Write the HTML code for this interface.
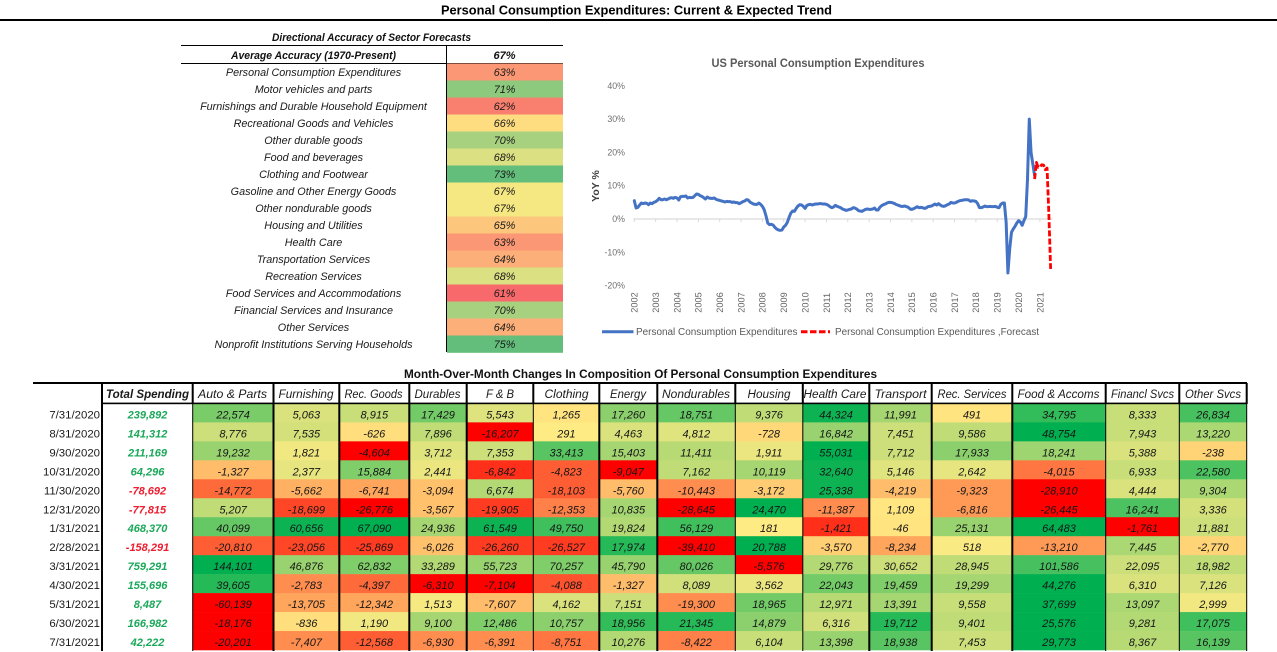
<!DOCTYPE html>
<html lang="en">
<head>
<meta charset="utf-8">
<title>Personal Consumption Expenditures: Current &amp; Expected Trend</title>
<style>
html,body{margin:0;padding:0;background:#fff;}
body{width:1277px;height:652px;overflow:hidden;}
svg{display:block;font-family:"Liberation Sans",sans-serif;}
.hdr{font-size:11.5px;font-style:italic;fill:#1a1a1a;text-anchor:middle;}
.legend{font-size:10px;fill:#595959;}
</style>
</head>
<body>
<svg id="page" xmlns="http://www.w3.org/2000/svg" width="1277" height="652" viewBox="0 0 1277 652">
  <text x="636.5" y="14.5" text-anchor="middle" font-size="13" font-weight="bold" fill="#000" textLength="391" lengthAdjust="spacingAndGlyphs">Personal Consumption Expenditures: Current &amp; Expected Trend</text>
  <rect x="0" y="19" width="1277" height="2" fill="#000"/>

  <g id="accuracy-table">
    <text x="371.5" y="41" text-anchor="middle" font-size="11" font-weight="bold" font-style="italic" fill="#111" textLength="199" lengthAdjust="spacingAndGlyphs">Directional Accuracy of Sector Forecasts</text>
    <rect x="181" y="45" width="382" height="1" fill="#000"/>
    <text x="313.5" y="59" text-anchor="middle" font-size="11" font-weight="bold" font-style="italic" fill="#111" textLength="165" lengthAdjust="spacingAndGlyphs">Average Accuracy (1970-Present)</text>
    <text x="504.5" y="59" text-anchor="middle" font-size="11" font-weight="bold" font-style="italic" fill="#111">67%</text>
    <rect x="181" y="63" width="382" height="1" fill="#000"/>
  </g>

  <g id="line-chart">
    <text x="818" y="67" text-anchor="middle" font-size="11.5" font-weight="bold" fill="#595959" textLength="213" lengthAdjust="spacingAndGlyphs">US Personal Consumption Expenditures</text>
    <text transform="translate(599,186) rotate(-90)" text-anchor="middle" font-size="10.5" font-weight="bold" fill="#404040">YoY %</text>
    <g>
      <line x1="602" y1="331.7" x2="633.5" y2="331.7" stroke="#4472C4" stroke-width="3"/>
      <text class="legend" x="636" y="335.2" textLength="161.5" lengthAdjust="spacingAndGlyphs">Personal Consumption Expenditures</text>
      <line x1="801" y1="331.7" x2="830" y2="331.7" stroke="#FF0000" stroke-width="3" stroke-dasharray="6.5,2.5"/>
      <text class="legend" x="835" y="335.2" textLength="204" lengthAdjust="spacingAndGlyphs">Personal Consumption Expenditures ,Forecast</text>
    </g>
  </g>

  <g id="heat-table">
    <text x="640.5" y="378" text-anchor="middle" font-size="11.5" font-weight="bold" fill="#111" textLength="473" lengthAdjust="spacingAndGlyphs">Month-Over-Month Changes In Composition Of Personal Consumption Expenditures</text>
    <g id="heat-body"></g>
    <g>
      <text class="hdr" x="147.5" y="398" font-weight="bold" textLength="83" lengthAdjust="spacingAndGlyphs">Total Spending</text>
      <text class="hdr" x="232.5" y="398" textLength="69" lengthAdjust="spacingAndGlyphs">Auto &amp; Parts</text>
      <text class="hdr" x="306" y="398" textLength="55" lengthAdjust="spacingAndGlyphs">Furnishing</text>
      <text class="hdr" x="373.5" y="398" textLength="58" lengthAdjust="spacingAndGlyphs">Rec. Goods</text>
      <text class="hdr" x="437.5" y="398" textLength="46" lengthAdjust="spacingAndGlyphs">Durables</text>
      <text class="hdr" x="500" y="398" textLength="28" lengthAdjust="spacingAndGlyphs">F &amp; B</text>
      <text class="hdr" x="566.5" y="398" textLength="44" lengthAdjust="spacingAndGlyphs">Clothing</text>
      <text class="hdr" x="628" y="398" textLength="36" lengthAdjust="spacingAndGlyphs">Energy</text>
      <text class="hdr" x="696" y="398" textLength="68" lengthAdjust="spacingAndGlyphs">Nondurables</text>
      <text class="hdr" x="769" y="398" textLength="43" lengthAdjust="spacingAndGlyphs">Housing</text>
      <text class="hdr" x="835" y="398" textLength="63" lengthAdjust="spacingAndGlyphs">Health Care</text>
      <text class="hdr" x="900.5" y="398" textLength="52" lengthAdjust="spacingAndGlyphs">Transport</text>
      <text class="hdr" x="972" y="398" textLength="69" lengthAdjust="spacingAndGlyphs">Rec. Services</text>
      <text class="hdr" x="1058.5" y="398" textLength="82" lengthAdjust="spacingAndGlyphs">Food &amp; Accoms</text>
      <text class="hdr" x="1142.5" y="398" textLength="63" lengthAdjust="spacingAndGlyphs">Financl Svcs</text>
      <text class="hdr" x="1213" y="398" textLength="56" lengthAdjust="spacingAndGlyphs">Other Svcs</text>
    </g>
  </g>
</svg>

<script>
/* ---------- accuracy table data ---------- */
const sectorNames = ["Personal Consumption Expenditures","Motor vehicles and parts","Furnishings and Durable Household Equipment","Recreational Goods and Vehicles","Other durable goods","Food and beverages","Clothing and Footwear","Gasoline and Other Energy Goods","Other nondurable goods","Housing and Utilities","Health Care","Transportation Services","Recreation Services","Food Services and Accommodations","Financial Services and Insurance","Other Services","Nonprofit Institutions Serving Households"];
const sectorAccuracy = [63,71,62,66,70,68,73,67,67,65,63,64,68,61,70,64,75];

/* ---------- line chart data ---------- */
const yearLabels = ["2002","2003","2004","2005","2006","2007","2008","2009","2010","2011","2012","2013","2014","2015","2016","2017","2018","2019","2020","2021"];
const yTickValues = [40,30,20,10,0,-10,-20];
const pceYoY = [
5.5,3.3,3.5,4.2,4.8,4.6,4.8,4.7,4.3,4.8,4.6,5.0,
5.2,5.6,6.2,5.8,5.8,6.0,5.8,6.0,6.3,6.4,6.2,6.5,
6.3,5.7,6.7,6.8,6.8,6.9,6.3,6.5,6.4,6.5,7.0,7.5,
7.4,7.0,6.8,6.4,6.0,6.6,6.3,6.2,6.2,6.3,5.9,5.7,
5.6,5.4,5.3,5.1,5.3,5.2,5.2,5.0,5.1,4.9,4.9,4.6,
4.9,5.2,5.4,5.8,5.7,5.1,4.8,4.5,4.4,4.4,4.8,4.4,
3.8,2.8,1.0,-1.2,-1.7,-1.6,-1.8,-2.5,-3.0,-3.3,-3.4,-3.3,
-2.4,-1.9,-1.0,0.5,1.8,2.4,2.3,3.2,3.9,4.3,4.2,3.8,
3.2,4.1,4.3,4.4,4.2,4.4,4.5,4.5,4.6,4.6,4.5,4.5,
4.4,4.1,3.7,3.4,3.6,4.1,3.8,3.6,3.4,3.0,2.8,2.6,
2.7,2.9,3.0,3.4,3.3,3.0,2.5,2.4,2.3,2.6,2.9,3.0,
2.9,2.9,3.0,3.3,2.7,2.7,3.5,4.0,4.3,4.5,4.8,5.0,
5.0,4.9,4.7,4.4,4.2,4.0,3.8,3.8,3.9,3.7,3.5,3.0,
2.9,3.1,3.4,3.7,3.4,3.5,3.4,3.2,3.3,3.7,3.8,3.9,
4.2,4.5,4.2,4.6,4.2,3.9,3.8,4.0,4.3,4.5,5.0,4.8,
4.8,5.0,5.3,5.5,5.6,5.7,5.8,5.8,5.7,5.3,5.5,5.4,
5.3,4.6,3.4,3.4,3.6,3.9,3.7,3.7,3.8,3.7,3.7,3.8,
3.5,3.4,4.4,4.8,4.8,-1.0,-16.2,-9.0,-4.0,-3.0,-2.2,-1.2,
-0.5,-0.9,-1.9,-0.5,0.7,12.0,30.0,20.0,16.5,13.0];
const pceForecast = [12.0,17.0,15.5,15.6,16.3,16.2,14.8,15.3,1.5,-15.0];

/* ---------- heatmap data: printed values and colour score (-1 red .. 0 yellow .. 1 green) ---------- */
const rowDates = ["7/31/2020","8/31/2020","9/30/2020","10/31/2020","11/30/2020","12/31/2020","1/31/2021","2/28/2021","3/31/2021","4/30/2021","5/31/2021","6/30/2021","7/31/2021"];
const totalSpending = [239892,141312,211169,64296,-78692,-77815,468370,-158291,759291,155696,8487,166982,42222];

const autoParts = [22574,8776,19232,-1327,-14772,5207,40099,-20810,144101,39605,-60139,-18176,-20201];
const furnishing = [5063,7535,1821,2377,-5662,-18699,60656,-23056,46876,-2783,-13705,-836,-7407];
const recGoods = [8915,-626,-4604,15884,-6741,-26776,67090,-25869,62832,-4397,-12342,1190,-12568];
const durables = [17429,7896,3712,2441,-3094,-3567,24936,-6026,33289,-6310,1513,9100,-6930];
const foodBev = [5543,-16207,7353,-6842,6674,-19905,61549,-26260,55723,-7104,-7607,12486,-6391];
const clothing = [1265,291,33413,-4823,-18103,-12353,49750,-26527,70257,-4088,4162,10757,-8751];
const energy = [17260,4463,15403,-9047,-5760,10835,19824,17974,45790,-1327,7151,18956,10276];
const nondurables = [18751,4812,11411,7162,-10443,-28645,56129,-39410,80026,8089,-19300,21345,-8422];
const housing = [9376,-728,1911,10119,-3172,24470,181,20788,-5576,3562,18965,14879,6104];
const healthCare = [44324,16842,55031,32640,25338,-11387,-1421,-3570,29776,22043,12971,6316,13398];
const transport = [11991,7451,7712,5146,-4219,1109,-46,-8234,30652,19459,13391,19712,18938];
const recServices = [491,9586,17933,2642,-9323,-6816,25131,518,28945,19299,9558,9401,7453];
const foodAccoms = [34795,48754,18241,-4015,-28910,-26445,64483,-13210,101586,44276,37699,25576,29773];
const financial = [8333,7943,5388,6933,4444,16241,-1761,7445,22095,6310,13097,9281,8367];
const otherSvcs = [26834,13220,-238,22580,9304,3336,11881,-2770,18982,7126,2999,17075,16139];

const autoPartsHeat = [.52,.2,.4,-.2,-.55,.25,.6,-.6,1,.85,-1,-1,-1];
const furnishingHeat = [.15,.17,.05,.1,-.25,-.7,.95,-.7,.4,-.4,-.3,-.05,-.4];
const recGoodsHeat = [.22,-.05,-1,.5,-.3,-1,1,-.75,.5,-.55,-.3,.05,-.6];
const durablesHeat = [.55,.25,.12,.08,-.18,-.18,.35,-.18,.3,-1,.03,.35,-.4];
const foodBevHeat = [.13,-1,.2,-.8,.3,-.75,.95,-.75,.4,-1,-.2,.5,-.4];
const clothingHeat = [-.03,0,.65,-.6,-.6,-.45,.75,-.75,.5,-.65,.15,.45,-.5];
const energyHeat = [.45,.15,.35,-1,-.2,.35,.3,.85,.4,-.2,.2,.8,.3];
const nondurablesHeat = [.6,.12,.28,.25,-.4,-1,.75,-1,.6,.18,-.4,.85,-.45];
const housingHeat = [.25,-.08,.08,.35,-.13,1,0,1,-1,.08,.55,.45,.22];
const healthCareHeat = [.95,.4,1,.95,.95,-.4,-.8,-.12,.3,.55,.28,.18,.4];
const transportHeat = [.35,.2,.2,.12,-.2,-.02,-.03,-.3,.2,.5,.35,.85,.65];
const recServicesHeat = [-.03,.25,.45,.1,-.35,-.35,.4,.02,.25,.35,.22,.25,.2];
const foodAccomsHeat = [.8,1,.38,-.5,-1,-1,1,-.35,.72,1,1,1,1];
const financialHeat = [.22,.22,.15,.22,.15,.7,-1,.33,.2,.15,.33,.3,.28];
const otherSvcsHeat = [.72,.33,-.1,.7,.33,.17,.2,-.1,.25,.15,.05,.75,.65];

const sectorColumns = [autoParts,furnishing,recGoods,durables,foodBev,clothing,energy,nondurables,housing,healthCare,transport,recServices,foodAccoms,financial,otherSvcs];
const heatColumns = [autoPartsHeat,furnishingHeat,recGoodsHeat,durablesHeat,foodBevHeat,clothingHeat,energyHeat,nondurablesHeat,housingHeat,healthCareHeat,transportHeat,recServicesHeat,foodAccomsHeat,financialHeat,otherSvcsHeat];
</script>
<script>
const NS = "http://www.w3.org/2000/svg";
function make(parent, tag, attrs, txt) {
  const n = document.createElementNS(NS, tag);
  for (const k in attrs) n.setAttribute(k, attrs[k]);
  if (txt !== undefined) n.textContent = txt;
  parent.appendChild(n);
  return n;
}
function mix(a, b, t) {
  return "rgb(" + a.map((v, i) => Math.round(v + (b[i] - v) * t)).join(",") + ")";
}
function scale3(s, low, mid, high) {
  const c = Math.max(-1, Math.min(1, s));
  return c < 0 ? mix(mid, low, -c) : mix(mid, high, c);
}

/* accuracy table */
const accGroup = document.getElementById("accuracy-table");
const accTop = 63.5, accRow = 17;
function accuracyColor(v) {
  const s = v < 66.6 ? (v - 66.6) / 5.6 : (v - 66.6) / 6;
  return scale3(s, [248,105,107], [255,235,132], [99,190,123]);
}
sectorNames.forEach(function (name, i) {
  const y = accTop + i * accRow;
  const cell = make(accGroup, "rect", {x: 447, y: y, width: 116, height: accRow + 0.3, fill: accuracyColor(sectorAccuracy[i])});
  
  
  const label = make(accGroup, "text", {x: 313.5, y: y + 12.5, "text-anchor": "middle", "font-size": 10.8, "font-style": "italic", fill: "#1a1a1a"}, name);
  
  
  const val = make(accGroup, "text", {x: 504.5, y: y + 12.5, "text-anchor": "middle", "font-size": 10.8, "font-style": "italic", fill: "#1a1a1a"}, sectorAccuracy[i] + "%");
  
  
});
const accDivider = make(accGroup, "rect", {x: 446, y: 45, width: 1, height: 307, fill: "#000"});



/* line chart */
const chart = document.getElementById("line-chart");
const xOrigin = 634.3, xYear = 21.35, yZero = 219, yPerPct = 3.33;
function xAxis(monthIndex) { return xOrigin + monthIndex * xYear / 12; }
function yAxis(pct) { return yZero - pct * yPerPct; }

yTickValues.forEach(function (v) {
  const t = make(chart, "text", {x: 625, y: yAxis(v) + 3, "text-anchor": "end", "font-size": 8.8, fill: "#6f6f6f"}, v + "%");
  
  
});
const axisLine = make(chart, "line", {x1: xAxis(0) - 1, y1: yAxis(0), x2: xAxis(235), y2: yAxis(0), stroke: "#d9d9d9", "stroke-width": 1.2});


yearLabels.forEach(function (label, k) {
  const x = xAxis(k * 12);
  const tick = make(chart, "line", {x1: x, y1: yAxis(0), x2: x, y2: yAxis(0) + 3, stroke: "#d9d9d9", "stroke-width": 1});
  
  
  const t = make(chart, "text", {transform: "translate(" + (x + 3.3) + ",312.7) rotate(-90)", "font-size": 9.2, fill: "#666"}, label);
  
  
});
const actualPts = pceYoY.map(function (v, i) { return xAxis(i).toFixed(2) + "," + yAxis(v).toFixed(2); }).join(" ");
const actualLine = make(chart, "polyline", {points: actualPts, fill: "none", stroke: "#4472C4", "stroke-width": 3, "stroke-linejoin": "round", "stroke-linecap": "round"});


const forecastOffset = pceYoY.length - 1;
const forecastPts = pceForecast.map(function (v, i) { return xAxis(forecastOffset + i).toFixed(2) + "," + yAxis(v).toFixed(2); }).join(" ");
const forecastLine = make(chart, "polyline", {points: forecastPts, fill: "none", stroke: "#FF0000", "stroke-width": 2.8, "stroke-dasharray": "6,2.2", "stroke-linejoin": "round"});



/* heatmap table */
const body = document.getElementById("heat-body");
const colEdges = [192.7,273.5,339.3,409.3,466.7,533.3,599.3,657.3,735.3,802.8,869.3,931.7,1012.3,1105.7,1179.3,1246.7];
const sepWidths = [1,2,2,2,2,1,2,2,1,1,2,2,2,1,1,1];
const rowTop = 403.4, rowH = 18.97;
function fmt(v) {
  const s = Math.abs(v).toString().replace(/\B(?=(\d{3})+(?!\d))/g, ",");
  return (v < 0 ? "-" : "") + s;
}
function heatColor(s) { return scale3(s, [255,0,0], [255,235,132], [0,176,80]); }

rowDates.forEach(function (date, r) {
  const y = rowTop + r * rowH;
  const d = make(body, "text", {x: 100, y: y + 15, "text-anchor": "end", "font-size": 11.4, fill: "#1a1a1a"}, date);
  
  
  const total = totalSpending[r];
  const t = make(body, "text", {x: 147.5, y: y + 15, "text-anchor": "middle", "font-size": 11, "font-style": "italic", "font-weight": "bold", fill: total < 0 ? "#ee1c2e" : "#1aa85a"}, fmt(total));
  
  
  sectorColumns.forEach(function (col, c) {
    const x0 = colEdges[c], x1 = colEdges[c + 1];
    const cell = make(body, "rect", {x: x0, y: y, width: x1 - x0 + 0.3, height: rowH + 0.3, fill: heatColor(heatColumns[c][r])});
    
    
    const txt = make(body, "text", {x: (x0 + x1) / 2, y: y + 15, "text-anchor": "middle", "font-size": 11, "font-style": "italic", fill: "#161616"}, fmt(col[r]));
    
    
  });
});
colEdges.forEach(function (x, i) {
  const w = sepWidths[i];
  const bodySep = make(body, "rect", {x: x - w / 2, y: 403, width: w, height: 248, fill: "#000"});
  
  
  const headSep = make(body, "rect", {x: x - 1, y: 383, width: 2, height: 21, fill: "#000"});
  
  
});
const dateSep = make(body, "rect", {x: 101, y: 383, width: 2, height: 268, fill: "#000"});


const headTop = make(body, "rect", {x: 33, y: 382, width: 1214, height: 2, fill: "#000"});


const headBottom = make(body, "rect", {x: 102, y: 402.6, width: 1145, height: 1.6, fill: "#000"});


</script>
</body>
</html>
